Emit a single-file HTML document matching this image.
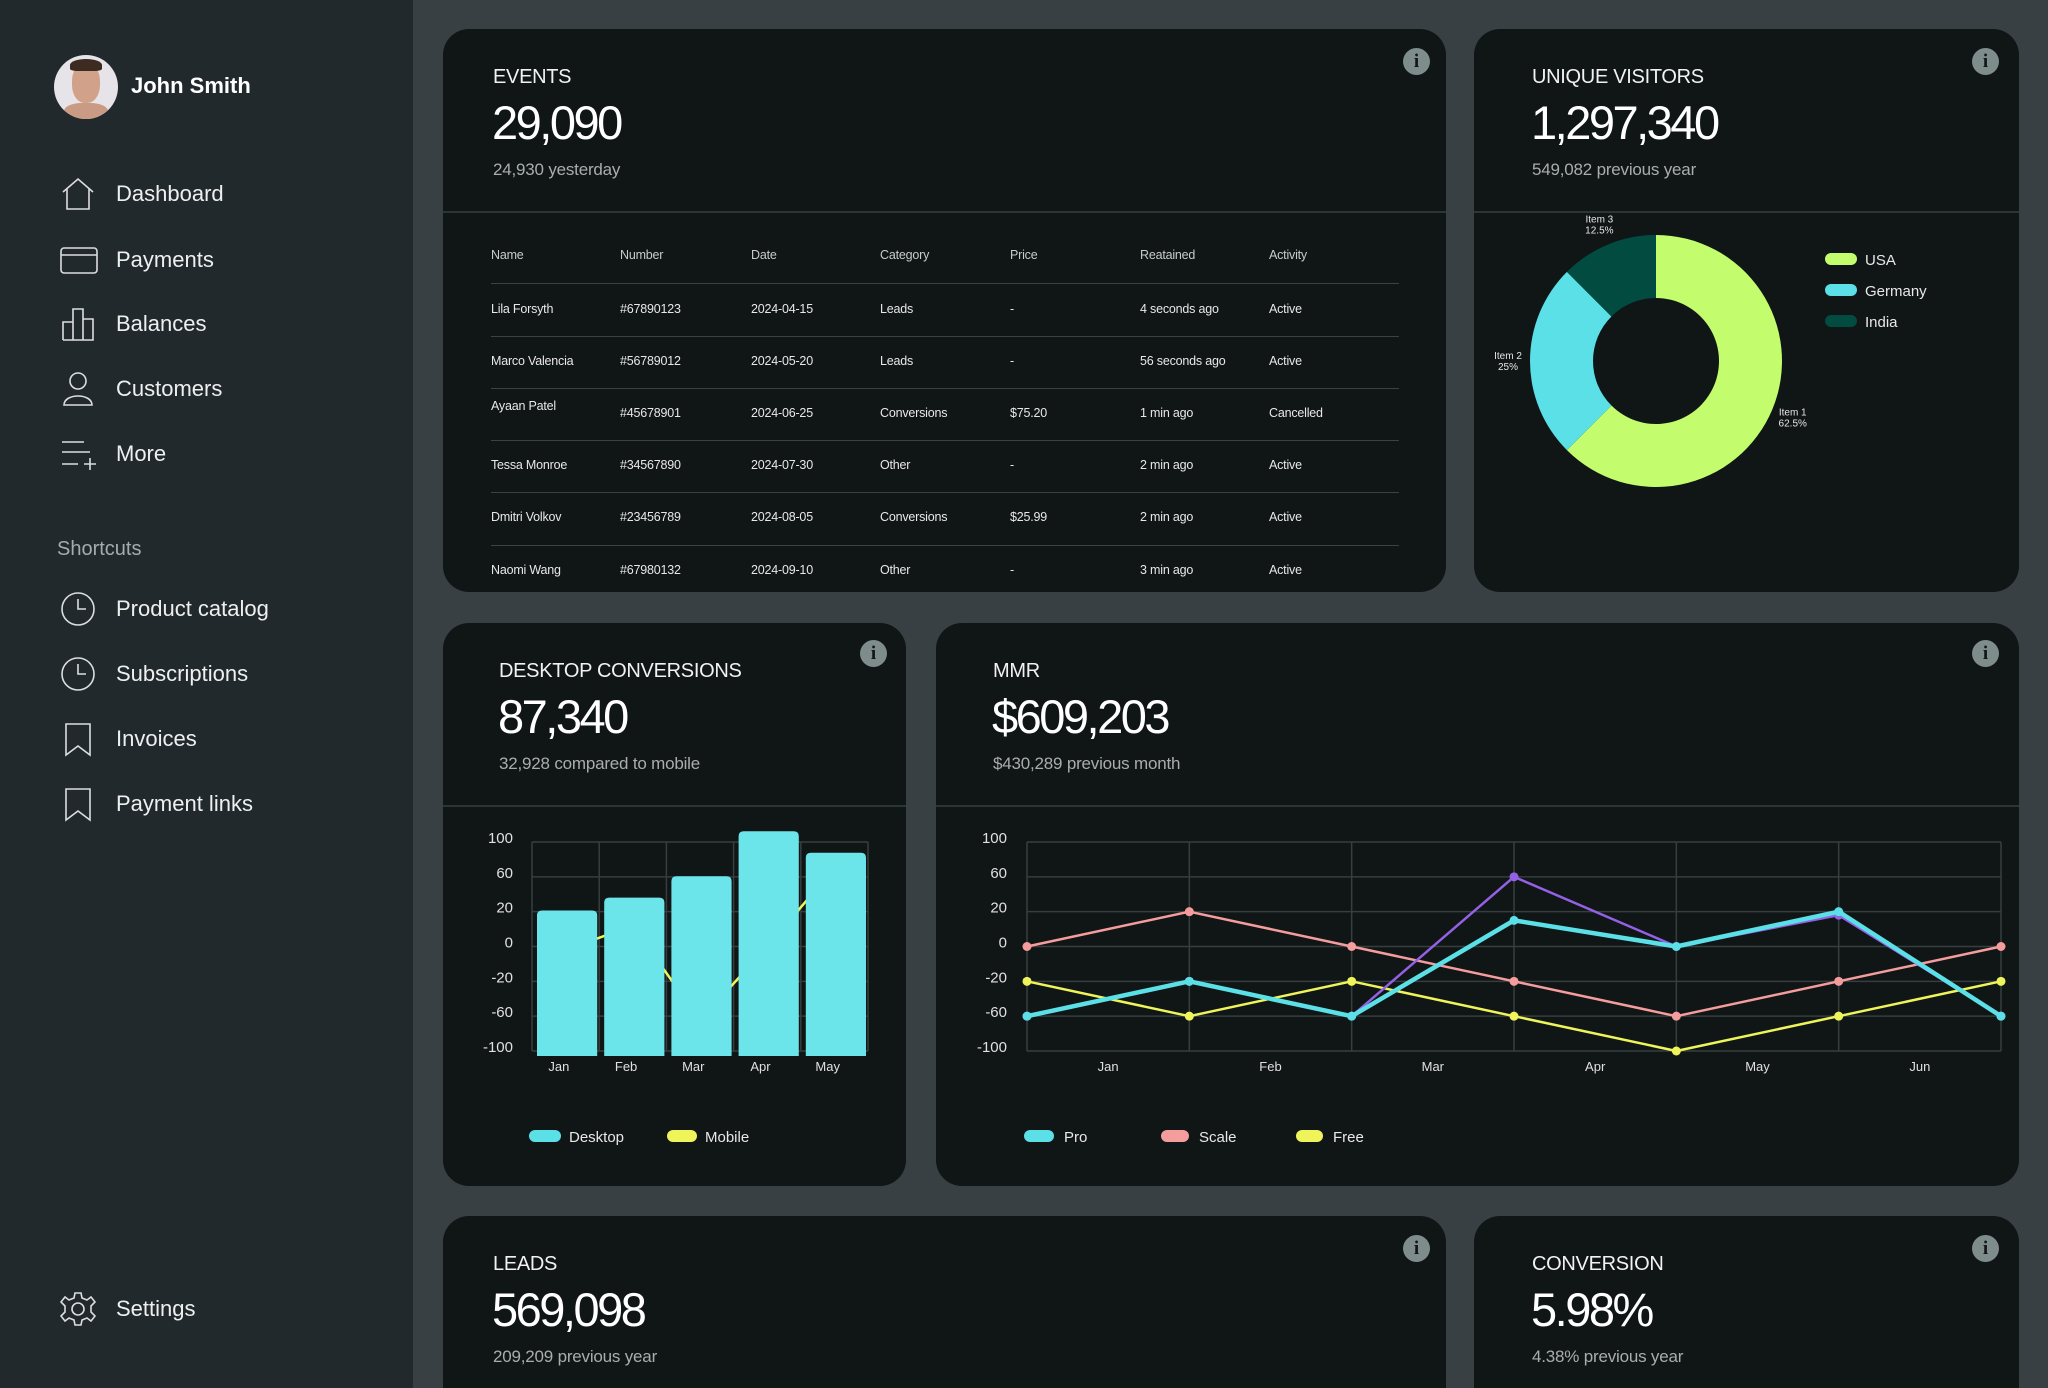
<!DOCTYPE html>
<html><head><meta charset="utf-8">
<style>
*{margin:0;padding:0;box-sizing:border-box}
html{width:2048px;height:1388px;overflow:hidden}
body{width:2048px;height:1388px;overflow:hidden;background:#384044;font-family:"Liberation Sans",sans-serif;color:#fff;position:relative}
.abs{position:absolute}
#sidebar{left:0;top:0;width:413px;height:1388px;background:#22292c}
.nav{position:absolute;left:0;width:413px;height:50px}
.nav svg{position:absolute;left:60px;top:7px}
.nav span{position:absolute;left:116px;top:12px;font-size:22px;color:#eef0f0}
.card{position:absolute;background:#101516;border-radius:26px;overflow:hidden}
.ttl{position:absolute;font-size:20px;color:#f2f2f2;letter-spacing:-0.3px}
.big{position:absolute;font-size:47px;letter-spacing:-2.5px;color:#fff}
.sub{position:absolute;font-size:17px;color:#a9adae;letter-spacing:-0.2px}
.div{position:absolute;left:0;right:0;height:2px;background:#2c3436}
.info{position:absolute;width:27px;height:27px;border-radius:50%;background:#7f8c8c;color:#101516;font-weight:bold;font-size:19px;text-align:center;line-height:27px;font-family:"Liberation Serif",serif}
.th,.td{position:absolute;font-size:12.5px;color:#e8e8e8;letter-spacing:-0.2px}
.th{color:#c8cbcc}
.rl{position:absolute;left:491px;width:908px;height:1px;background:#3a4244}
</style></head><body>
<div id="sidebar" class="abs">
  <div class="abs" style="left:54px;top:55px;width:64px;height:64px;border-radius:50%;overflow:hidden;background:#e6e4e8">
    <div class="abs" style="left:18px;top:8px;width:28px;height:40px;border-radius:45%;background:#d2a189"></div>
    <div class="abs" style="left:16px;top:4px;width:32px;height:12px;border-radius:50% 50% 20% 20%;background:#3d2a20"></div>
    <div class="abs" style="left:10px;top:48px;width:44px;height:20px;border-radius:40% 40% 0 0;background:#c99a84"></div>
  </div>
  <div class="abs" style="left:131px;top:73px;font-size:22px;font-weight:bold">John Smith</div>
  <div class="nav" style="top:169px"><svg width="36" height="36" viewBox="0 0 36 36" fill="none" stroke="#ddd" stroke-width="1.6"><path d="M3 16 L18 3 L33 16 M7 13 V33 H29 V13"/></svg><span>Dashboard</span></div>
  <div class="nav" style="top:235px"><svg width="38" height="36" viewBox="0 0 38 36" fill="none" stroke="#ddd" stroke-width="1.6"><rect x="1" y="6" width="36" height="25" rx="3"/><path d="M1 13 H37"/></svg><span>Payments</span></div>
  <div class="nav" style="top:299px"><svg width="36" height="36" viewBox="0 0 36 36" fill="none" stroke="#ddd" stroke-width="1.6"><path d="M3 34 V16 H13 V34 M13 34 V3 H23 V34 M23 34 V13 H33 V34 Z M3 34 H33"/></svg><span>Balances</span></div>
  <div class="nav" style="top:364px"><svg width="36" height="36" viewBox="0 0 36 36" fill="none" stroke="#ddd" stroke-width="1.6"><circle cx="18" cy="10" r="8"/><path d="M4 34 C4 22 32 22 32 34 Z"/></svg><span>Customers</span></div>
  <div class="nav" style="top:429px"><svg width="38" height="36" viewBox="0 0 38 36" fill="none" stroke="#ddd" stroke-width="1.6"><path d="M2 6 H24 M2 16 H30 M2 28 H18 M24 28 H36 M30 22 V34"/></svg><span>More</span></div>
  <div class="abs" style="left:57px;top:538px;font-size:20px;color:#a6abad">Shortcuts</div>
  <div class="nav" style="top:584px"><svg width="36" height="36" viewBox="0 0 36 36" fill="none" stroke="#ddd" stroke-width="1.6"><circle cx="18" cy="18" r="16"/><path d="M18 8 V18 H26"/></svg><span>Product catalog</span></div>
  <div class="nav" style="top:649px"><svg width="36" height="36" viewBox="0 0 36 36" fill="none" stroke="#ddd" stroke-width="1.6"><circle cx="18" cy="18" r="16"/><path d="M18 8 V18 H26"/></svg><span>Subscriptions</span></div>
  <div class="nav" style="top:714px"><svg width="36" height="36" viewBox="0 0 36 36" fill="none" stroke="#ddd" stroke-width="1.6"><path d="M6 3 H30 V34 L18 25 L6 34 Z"/></svg><span>Invoices</span></div>
  <div class="nav" style="top:779px"><svg width="36" height="36" viewBox="0 0 36 36" fill="none" stroke="#ddd" stroke-width="1.6"><path d="M6 3 H30 V34 L18 25 L6 34 Z"/></svg><span>Payment links</span></div>
  <div class="nav" style="top:1284px"><svg width="36" height="36" viewBox="0 0 36 36" fill="none" stroke="#ddd" stroke-width="1.6"><circle cx="18" cy="18" r="6"/><path d="M15 2 H21 L22 7 L27 9 L31 6 L35 11 L31 15 V21 L35 25 L31 30 L27 27 L22 29 L21 34 H15 L14 29 L9 27 L5 30 L1 25 L5 21 V15 L1 11 L5 6 L9 9 L14 7 Z"/></svg><span>Settings</span></div>
</div>

<div class="card" style="left:443px;top:29px;width:1003px;height:563px">
  <div class="ttl" style="left:50px;top:37px">EVENTS</div>
  <div class="big" style="left:49px;top:66px">29,090</div>
  <div class="sub" style="left:50px;top:131px">24,930 yesterday</div>
  <div class="info" style="left:960px;top:19px">i</div>
  <div class="div" style="top:182px"></div>
</div>
<div id="table"></div>

<div class="card" style="left:1474px;top:29px;width:545px;height:563px">
  <div class="ttl" style="left:58px;top:37px">UNIQUE VISITORS</div>
  <div class="big" style="left:57px;top:66px">1,297,340</div>
  <div class="sub" style="left:58px;top:131px">549,082 previous year</div>
  <div class="info" style="left:498px;top:19px">i</div>
  <div class="div" style="top:182px"></div>
</div>

<div class="card" style="left:443px;top:623px;width:463px;height:563px">
  <div class="ttl" style="left:56px;top:37px">DESKTOP CONVERSIONS</div>
  <div class="big" style="left:55px;top:66px">87,340</div>
  <div class="sub" style="left:56px;top:131px">32,928 compared to mobile</div>
  <div class="info" style="left:417px;top:17px">i</div>
  <div class="div" style="top:182px"></div>
</div>

<div class="card" style="left:936px;top:623px;width:1083px;height:563px">
  <div class="ttl" style="left:57px;top:37px">MMR</div>
  <div class="big" style="left:56px;top:66px">$609,203</div>
  <div class="sub" style="left:57px;top:131px">$430,289 previous month</div>
  <div class="info" style="left:1036px;top:17px">i</div>
  <div class="div" style="top:182px"></div>
</div>

<div class="card" style="left:443px;top:1216px;width:1003px;height:172px;border-radius:26px 26px 0 0">
  <div class="ttl" style="left:50px;top:37px">LEADS</div>
  <div class="big" style="left:49px;top:66px">569,098</div>
  <div class="sub" style="left:50px;top:131px">209,209 previous year</div>
  <div class="info" style="left:960px;top:19px">i</div>
</div>
<div class="card" style="left:1474px;top:1216px;width:545px;height:172px;border-radius:26px 26px 0 0">
  <div class="ttl" style="left:58px;top:37px">CONVERSION</div>
  <div class="big" style="left:57px;top:66px">5.98%</div>
  <div class="sub" style="left:58px;top:131px">4.38% previous year</div>
  <div class="info" style="left:498px;top:19px">i</div>
</div>

<svg id="charts" class="abs" style="left:0;top:0" width="2048" height="1388"></svg>

<script>
const tableHeaders=["Name","Number","Date","Category","Price","Reatained","Activity"];
const tableRows=[
["Lila Forsyth","#67890123","2024-04-15","Leads","-","4 seconds ago","Active"],
["Marco Valencia","#56789012","2024-05-20","Leads","-","56 seconds ago","Active"],
["Ayaan Patel","#45678901","2024-06-25","Conversions","$75.20","1 min ago","Cancelled"],
["Tessa Monroe","#34567890","2024-07-30","Other","-","2 min ago","Active"],
["Dmitri Volkov","#23456789","2024-08-05","Conversions","$25.99","2 min ago","Active"],
["Naomi Wang","#67980132","2024-09-10","Other","-","3 min ago","Active"]];
const donutLabels=["Item 1","Item 2","Item 3"];
const donutLegend=["USA","Germany","India"];
const donutValues=[62.5,25,12.5];
const barCats=["Jan","Feb","Mar","Apr","May"];
const desktopVals=[68,74,84,105,95];
const mobileVals=[-2,12,-65,0,70];
const yTickLabels=[100,60,20,0,-20,-60,-100];
const lineCats=["Jan","Feb","Mar","Apr","May","Jun"];
const proVals=[-60,-20,-60,15,0,20,-60];
const purpleVals=[-60,-20,-60,60,0,18,-60];
const scaleVals=[0,20,0,-20,-60,-20,0];
const freeVals=[-20,-60,-20,-60,-100,-60,-20];

const NS="http://www.w3.org/2000/svg";
const svg=document.getElementById('charts');
function mk(tag,attrs,parent){const e=document.createElementNS(NS,tag);for(const k in attrs)e.setAttribute(k,attrs[k]);(parent||svg).appendChild(e);return e;}

const colX=[491,620,751,880,1010,1140,1269];
const tbl=document.getElementById('table');
tableHeaders.forEach((h,i)=>{const d=document.createElement('div');d.className='th';d.style.left=colX[i]+'px';d.style.top='248px';d.textContent=h;


tbl.appendChild(d);});
const rowY=[310,362,414,466,518,571];
const lineY=[283,336,388,440,492,545];
lineY.forEach(y=>{const l=document.createElement('div');l.className='rl';l.style.top=y+'px';


tbl.appendChild(l);});
tableRows.forEach((r,ri)=>{r.forEach((c,ci)=>{const d=document.createElement('div');d.className='td';d.style.left=colX[ci]+'px';
let y=rowY[ri]-8; if(ri===2&&ci===0)y=rowY[ri]-15;
d.style.top=y+'px';d.textContent=c;


tbl.appendChild(d);});});

(function(){
const cx=1656,cy=361,R=126,r=63;const cols=["#c3fd6d","#5ae0e6","#024b40"];
const tot=donutValues.reduce((a,b)=>a+b,0);let a0=0;
donutValues.forEach((v,i)=>{const a1=a0+v/tot*2*Math.PI;
const p=(a,rad)=>[cx+rad*Math.sin(a),cy-rad*Math.cos(a)];
const [x0,y0]=p(a0,R),[x1,y1]=p(a1,R),[x2,y2]=p(a1,r),[x3,y3]=p(a0,r);const lg=(a1-a0)>Math.PI?1:0;
const s=mk('path',{d:`M${x0} ${y0} A${R} ${R} 0 ${lg} 1 ${x1} ${y1} L${x2} ${y2} A${r} ${r} 0 ${lg} 0 ${x3} ${y3}Z`,fill:cols[i]});


const am=(a0+a1)/2;const [lx,ly]=p(am,R+22);
const t=mk('text',{x:lx,y:ly-2,fill:'#e6e6e6','font-size':10,'text-anchor':'middle','font-family':'Liberation Sans'});t.textContent=donutLabels[i];


const t2=mk('text',{x:lx,y:ly+9,fill:'#e6e6e6','font-size':10,'text-anchor':'middle','font-family':'Liberation Sans'});t2.textContent=v+'%';


a0=a1;});
donutLegend.forEach((n,i)=>{const y=259+i*31;
const sw=mk('rect',{x:1825,y:y-6,width:32,height:12,rx:6,fill:cols[i]});


const t=mk('text',{x:1865,y:y+6,fill:'#e8e8e8','font-size':15,'font-family':'Liberation Sans'});t.textContent=n;

});
})();

const TOP=842,BOT=1051;
function tickY(i){return TOP+i*(BOT-TOP)/(yTickLabels.length-1);}
function yPos(v){for(let i=0;i<yTickLabels.length-1;i++){const a=yTickLabels[i],b=yTickLabels[i+1];if(v<=a&&v>=b)return tickY(i)+(a-v)/(a-b)*(tickY(i+1)-tickY(i));}
return v>yTickLabels[0]?tickY(0)-(v-yTickLabels[0])/40*(tickY(1)-tickY(0)):BOT;}

(function(){
const L=532,Rr=868,bw=(Rr-L)/barCats.length;const base=1056;
const barY=v=>base-v/100*(base-TOP);
yTickLabels.forEach((t,i)=>{const y=tickY(i);
const g=mk('line',{x1:L,x2:Rr,y1:y,y2:y,stroke:'#363e40','stroke-width':1.5});


const tx=mk('text',{x:513,y:y+1,fill:'#e0e0e0','font-size':15,'text-anchor':'end','font-family':'Liberation Sans'});tx.textContent=t;

});
for(let i=0;i<=barCats.length;i++){const x=L+i*bw;
const g=mk('line',{x1:x,x2:x,y1:TOP,y2:BOT,stroke:'#363e40','stroke-width':1.5});

}
const pts=mobileVals.map((v,i)=>[L+(i+0.5)*bw,yPos(v)]);
const ml=mk('polyline',{points:pts.map(p=>p.join(',')).join(' '),fill:'none',stroke:'#eef45a','stroke-width':2.5});


desktopVals.forEach((v,i)=>{const x=L+i*bw+5;const y=barY(v);
const b=mk('path',{d:`M${x} ${base} V${y+5} Q${x} ${y} ${x+5} ${y} H${x+bw-12} Q${x+bw-7} ${y} ${x+bw-7} ${y+5} V${base}Z`,fill:'#6be5e9'});


const t=mk('text',{x:L+(i+0.4)*bw,y:1071,fill:'#e0e0e0','font-size':13,'text-anchor':'middle','font-family':'Liberation Sans'});t.textContent=barCats[i];

});
[["Desktop","#5ae0e6",529,569],["Mobile","#eef45a",667,705]].forEach(l=>{
const s=mk('rect',{x:l[2],y:1130,width:l[3]-l[2]-8,height:12,rx:6,fill:l[1]});


const t=mk('text',{x:l[3],y:1142,fill:'#e8e8e8','font-size':15,'font-family':'Liberation Sans'});t.textContent=l[0];

});
})();

(function(){
const L=1027,Rr=2001,n=proVals.length;const xs=i=>L+i*(Rr-L)/(n-1);
yTickLabels.forEach((t,i)=>{const y=tickY(i);
const g=mk('line',{x1:L,x2:Rr,y1:y,y2:y,stroke:'#363e40','stroke-width':1.5});


const tx=mk('text',{x:1007,y:y+1,fill:'#e0e0e0','font-size':15,'text-anchor':'end','font-family':'Liberation Sans'});tx.textContent=t;

});
for(let i=0;i<n;i++){const g=mk('line',{x1:xs(i),x2:xs(i),y1:TOP,y2:BOT,stroke:'#363e40','stroke-width':1.5});

}
lineCats.forEach((c,i)=>{const t=mk('text',{x:(xs(i)+xs(i+1))/2,y:1071,fill:'#e0e0e0','font-size':13,'text-anchor':'middle','font-family':'Liberation Sans'});t.textContent=c;

});
function series(vals,col,w,name){const pts=vals.map((v,i)=>[xs(i),yPos(v)]);
const pl=mk('polyline',{points:pts.map(p=>p.join(',')).join(' '),fill:'none',stroke:col,'stroke-width':w,'stroke-linejoin':'round'});


pts.forEach(p=>{const c=mk('circle',{cx:p[0],cy:p[1],r:4.5,fill:col});

});}
series(scaleVals,'#f59d9d',2.5,'scale');
series(freeVals,'#eef45a',2.5,'free');
series(purpleVals,'#9461e6',2.5,'purple');
series(proVals,'#5ae0e6',4.5,'pro');
[["Pro","#5ae0e6",1024,1064],["Scale","#f59d9d",1161,1199],["Free","#eef45a",1296,1333]].forEach(l=>{
const s=mk('rect',{x:l[2],y:1130,width:l[3]-l[2]-10,height:12,rx:6,fill:l[1]});


const t=mk('text',{x:l[3],y:1142,fill:'#e8e8e8','font-size':15,'font-family':'Liberation Sans'});t.textContent=l[0];

});
})();
</script>
</body></html>
